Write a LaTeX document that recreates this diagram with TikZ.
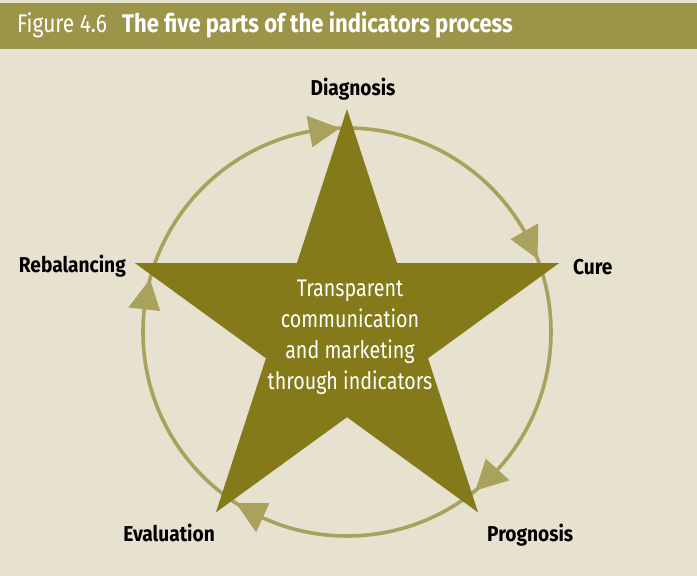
\documentclass[tikz,border=0pt]{standalone}
\usepackage{fontspec}
\setmainfont[FakeStretch=0.82]{Fira Sans}
\newfontfamily\condbold[FakeStretch=0.89]{Fira Sans Bold}
\newfontfamily\headbold[FakeStretch=0.865]{Fira Sans Bold}
\newfontfamily\headreg[FakeStretch=0.82]{Fira Sans}
\usetikzlibrary{calc}
\definecolor{bgc}{HTML}{E6E2CF}
\definecolor{headc}{HTML}{9C9448}
\definecolor{starc}{HTML}{857A1A}
\definecolor{ringc}{HTML}{A9A25C}
\tikzset{
  lbl/.style={anchor=base, inner sep=0pt, font=\condbold\fontsize{21.5}{24}\selectfont, text=black},
  ring/.style={draw=ringc, line width=3.6pt},
  arrowhd/.style={fill=ringc},
}
\begin{document}
\begin{tikzpicture}[x=1pt,y=1pt]
\useasboundingbox (0,0) rectangle (697,576);
\fill[bgc] (0,0) rectangle (697,576);
\fill[headc] (0,527) rectangle (697,573);
\node[anchor=base west, inner sep=0pt, text=white, font=\headreg\fontsize{25.5}{28}\selectfont] (fig) at (17,543) {Figure 4.6};
\node[anchor=base west, inner sep=0pt, text=white, font=\headbold\fontsize{25.5}{28}\selectfont] (title) at (122,543) {The five parts of the indicators process};
\coordinate (c) at (347,244);
% ring
\draw[ring] (c) circle[radius=204];
% star
\foreach \i/\a in {1/90,2/18,3/-54,4/-126,5/-198}{
  \coordinate (t\i) at ($(c)+(\a:223)$);
  \coordinate (n\i) at ($(c)+(\a-36:85.2)$);
}
\fill[starc] (t1)--(n1)--(t2)--(n2)--(t3)--(n3)--(t4)--(n4)--(t5)--(n5)--cycle;
% arrowheads
\foreach \a in {92,21,-51,237,165}{
  \fill[arrowhd] ($(c)+(\a:204)$) -- ($(c)+(\a+8.6:188)$) -- ($(c)+(\a+8.6:220)$) -- cycle;
}
% labels
\node[lbl] (diag) at (353,480) {Diagnosis};
\node[lbl, anchor=base west] (cure) at (573,301) {Cure};
\node[lbl, anchor=base east] (rebal) at (126,303) {Rebalancing};
\node[lbl, anchor=base east] (eval) at (215,34) {Evaluation};
\node[lbl, anchor=base west] (prog) at (487,34) {Prognosis};
% centre text
\node[align=center, text=white, inner sep=0pt, font=\fontsize{24}{31}\selectfont] (mid) at (350,239) {Transparent\\communication\\and marketing\\through indicators};
\end{tikzpicture}
\end{document}
